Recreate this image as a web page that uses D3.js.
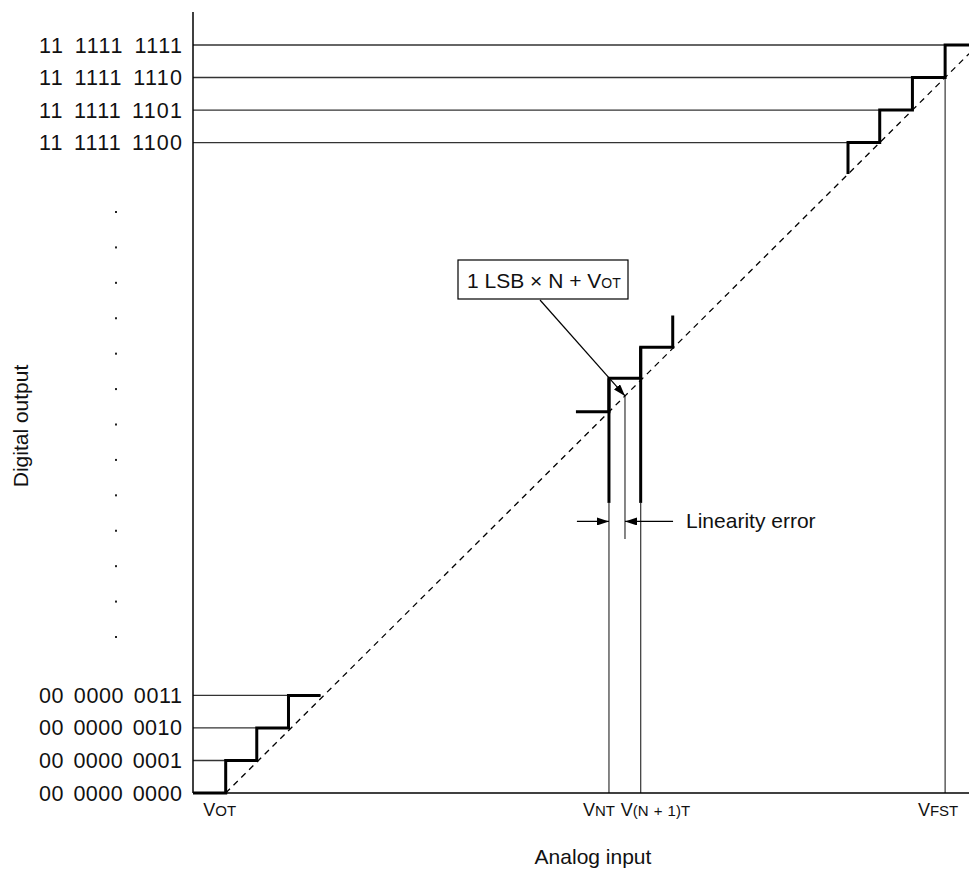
<!DOCTYPE html>
<html lang="en">
<head>
    <meta charset="UTF-8">
    <title>A/D linearity error</title>
    <script src="https://d3js.org/d3.v7.min.js"></script>
    <style>
      body { margin: 0; background: #fff; }
      text { font-family: "Liberation Sans", Arial, sans-serif; fill: #111; }
    </style>
</head>
<body>
    <svg id="chart" width="969" height="874"></svg>

    <script>
        // digital codes on the y axis (code index -> label)
        var codeLevels = [0, 1, 2, 3, 20, 21, 22, 23];
        var codeLabels = ["00 0000 0000", "00 0000 0001", "00 0000 0010", "00 0000 0011",
                          "11 1111 1100", "11 1111 1101", "11 1111 1110", "11 1111 1111"];
        // where each grid line meets the staircase (analog input, LSB units)
        var codeLineEnds = [0, 0.95, 1.92, 2.9, 19.03, 20, 21, 22.73];

        // staircases as [analog input, code] corners
        var stairLow = [[-1, 0], [0, 0], [0, 1], [0.95, 1], [0.95, 2], [1.92, 2], [1.92, 3], [2.9, 3]];
        var stairMid = [[10.71, 11.72], [11.72, 11.72], [11.72, 12.75], [12.69, 12.75],
                        [12.69, 13.71], [13.67, 13.71], [13.67, 14.68]];
        var stairTop = [[19.03, 19.03], [19.03, 20], [20, 20], [20, 21], [21, 21],
                        [21, 22], [22, 22], [22, 23], [22.73, 23]];

        // transition voltages
        var vOT = 0, vNT = 11.72, vN1T = 12.69, vFST = 22, vIdeal = 12.21;
        var stubBottom = 8.92;      // where thick part of VNT / V(N+1)T lines starts
        var arrowLevel = 8.35, idealBottom = 7.81;
        var dotCount = 13;

        var svg = d3.select("#chart");

        var x = d3.scaleLinear().domain([-1, 22.73]).range([193, 969]);
        var y = d3.scaleLinear().domain([0, 23]).range([793, 45]);

        var defs = svg.append("defs");
        defs.append("marker")
            .attr("id", "head")
            .attr("viewBox", "0 0 12 8")
            .attr("refX", 12).attr("refY", 4)
            .attr("markerWidth", 12).attr("markerHeight", 8)
            .attr("markerUnits", "userSpaceOnUse")
            .attr("orient", "auto")
          .append("path")
            .attr("d", "M0,0L12,4L0,8Z")
            .attr("fill", "#000");

        var line = d3.line().x(d => x(d[0])).y(d => y(d[1]));

        // thin grid lines from axis to staircase
        svg.append("g").selectAll("line")
          .data(codeLevels.slice(1))
          .enter().append("line")
            .attr("x1", x(-1))
            .attr("x2", (d, i) => x(codeLineEnds[i + 1]))
            .attr("y1", d => y(d)).attr("y2", d => y(d))
            .attr("stroke", "#333").attr("stroke-width", 1.3);

        // thin verticals from x axis
        var thinV = [[vNT, stubBottom], [vN1T, stubBottom], [vFST, 22]];
        svg.append("g").selectAll("line")
          .data(thinV)
          .enter().append("line")
            .attr("x1", d => x(d[0])).attr("x2", d => x(d[0]))
            .attr("y1", y(0)).attr("y2", d => y(d[1]))
            .attr("stroke", "#444").attr("stroke-width", 1.3);

        // ideal transition line
        svg.append("line")
            .attr("x1", x(vIdeal)).attr("x2", x(vIdeal))
            .attr("y1", y(vIdeal)).attr("y2", y(idealBottom))
            .attr("stroke", "#444").attr("stroke-width", 1.3);

        // ideal 45 degree line
        svg.append("line")
            .attr("x1", x(0)).attr("y1", y(0))
            .attr("x2", x(22.73)).attr("y2", y(22.73))
            .attr("stroke", "#000").attr("stroke-width", 1.3)
            .attr("stroke-dasharray", "6,5");

        // axes
        svg.append("line")
            .attr("x1", x(-1)).attr("x2", x(-1))
            .attr("y1", 12).attr("y2", y(0))
            .attr("stroke", "#000").attr("stroke-width", 1.5);
        svg.append("line")
            .attr("x1", x(-1)).attr("x2", 969)
            .attr("y1", y(0)).attr("y2", y(0))
            .attr("stroke", "#000").attr("stroke-width", 1.5);

        // thick staircases
        svg.append("g").selectAll("path")
          .data([stairLow, stairMid, stairTop])
          .enter().append("path")
            .attr("d", line)
            .attr("fill", "none")
            .attr("stroke", "#000").attr("stroke-width", 3);

        // thick stubs under the middle steps
        svg.append("g").selectAll("line")
          .data([[vNT, 12.75], [vN1T, 13.71]])
          .enter().append("line")
            .attr("x1", d => x(d[0])).attr("x2", d => x(d[0]))
            .attr("y1", y(stubBottom)).attr("y2", d => y(d[1]))
            .attr("stroke", "#000").attr("stroke-width", 3);

        // linearity error arrows
        svg.append("line")
            .attr("x1", x(10.74)).attr("x2", x(vNT))
            .attr("y1", y(arrowLevel)).attr("y2", y(arrowLevel))
            .attr("stroke", "#000").attr("stroke-width", 1.3)
            .attr("marker-end", "url(#head)");
        svg.append("line")
            .attr("x1", x(13.68)).attr("x2", x(vIdeal))
            .attr("y1", y(arrowLevel)).attr("y2", y(arrowLevel))
            .attr("stroke", "#000").attr("stroke-width", 1.3)
            .attr("marker-end", "url(#head)");
        svg.append("text")
            .attr("x", 686).attr("y", y(arrowLevel) + 7)
            .attr("font-size", 21)
            .text("Linearity error");

        // callout box
        var box = svg.append("g");
        box.append("rect")
            .attr("x", 458).attr("y", 260)
            .attr("width", 170).attr("height", 39)
            .attr("fill", "#fff").attr("stroke", "#000").attr("stroke-width", 1.2);
        var bt = box.append("text").attr("x", 467).attr("y", 288).attr("font-size", 21);
        bt.append("tspan").text("1 LSB \u00d7 N + V");
        bt.append("tspan").attr("font-size", 14).text("OT");
        svg.append("line")
            .attr("x1", 540).attr("y1", 300)
            .attr("x2", x(vIdeal)).attr("y2", y(vIdeal))
            .attr("stroke", "#000").attr("stroke-width", 1.2)
            .attr("marker-end", "url(#head)");

        // y labels
        svg.append("g").selectAll("text")
          .data(codeLevels)
          .enter().append("text")
            .attr("x", 39)
            .attr("y", d => y(d) + 7.5)
            .attr("font-size", 21.5)
            .attr("textLength", 143)
            .attr("lengthAdjust", "spacing")
            .style("word-spacing", "3px")
            .text((d, i) => codeLabels[i]);

        // ellipsis dots
        var dotY = d3.scaleLinear().domain([0, dotCount - 1]).range([212, 637]);
        svg.append("g").selectAll("rect")
          .data(d3.range(dotCount))
          .enter().append("rect")
            .attr("x", 115).attr("y", d => dotY(d) - 1)
            .attr("width", 2).attr("height", 2)
            .attr("fill", "#222");

        // x labels
        var xl = svg.append("g").attr("font-size", 18);
        function vlabel(px, anchor, main, sub, extra) {
          var t = xl.append("text").attr("x", px).attr("y", 816).attr("text-anchor", anchor);
          t.append("tspan").text(main);
          var s = t.append("tspan").attr("font-size", 15).text(sub);
          if (extra) s.style("word-spacing", "1px");
        }
        vlabel(x(vOT) - 6, "middle", "V", "OT");
        vlabel(x(vNT) + 6, "end", "V", "NT");
        vlabel(x(vN1T) - 20, "start", "V", "(N + 1)T", true);
        vlabel(x(vFST) - 7, "middle", "V", "FST");

        // axis titles
        svg.append("text")
            .attr("x", 593).attr("y", 864)
            .attr("text-anchor", "middle")
            .attr("font-size", 21)
            .text("Analog input");
        svg.append("text")
            .attr("transform", "translate(28,426) rotate(-90)")
            .attr("text-anchor", "middle")
            .attr("font-size", 21)
            .text("Digital output");
    </script>
</body>
</html>
